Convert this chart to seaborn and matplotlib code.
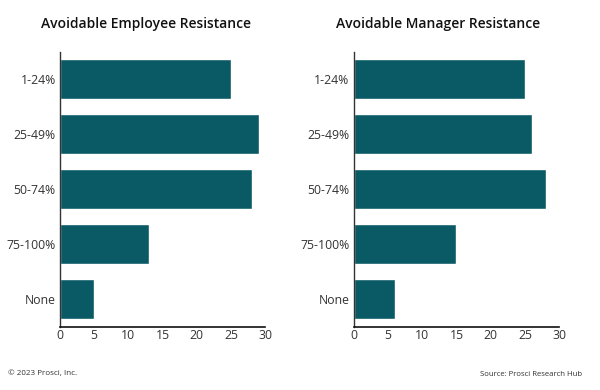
import matplotlib
matplotlib.use("Agg")
import matplotlib.pyplot as plt
import seaborn as sns
import pandas as pd

categories = ["1-24%", "25-49%", "50-74%", "75-100%", "None"]
employee_values = [25.0, 29.1, 28.1, 13.0, 5.0]
manager_values = [25.0, 26.0, 28.0, 15.0, 6.0]
titles = ["Avoidable Employee Resistance", "Avoidable Manager Resistance"]
xticks = [0, 5, 10, 15, 20, 25, 30]

sns.set_style("white")
plt.rcParams['font.family'] = ['Open Sans', 'DejaVu Sans']

color = "#0a5a66"
fig = plt.figure(figsize=(6, 3.9), dpi=100)

axes_pos = [[0.100, 0.1623, 0.342, 0.7051], [0.5895, 0.1623, 0.3425, 0.7051]]
title_x = [146 / 600, 438 / 600]

for pos, vals, title, tx in zip(axes_pos, [employee_values, manager_values], titles, title_x):
    ax = fig.add_axes(pos)
    df = pd.DataFrame({"cat": categories, "val": vals})
    sns.barplot(data=df, x="val", y="cat", orient="h", color=color, width=0.72,
                saturation=1, ax=ax)
    ax.set_xlim(0, 30)
    ax.set_ylim(4.5, -0.5)
    ax.set_xticks(xticks)
    ax.set_xticklabels([str(t) for t in xticks])
    ax.set_xlabel("")
    ax.set_ylabel("")
    for s in ["top", "right"]:
        ax.spines[s].set_visible(False)
    ax.spines["left"].set_color("#333333")
    ax.spines["bottom"].set_color("#111111")
    ax.spines["left"].set_linewidth(1.0)
    ax.spines["bottom"].set_linewidth(1.2)
    ax.tick_params(axis="x", direction="in", length=6, width=1, color="#111111",
                   labelsize=8.8, labelcolor="#333333", pad=2)
    ax.tick_params(axis="y", length=0, labelsize=8.8, labelcolor="#333333", pad=3)
    fig.text(tx, 1 - 24 / 390, title, ha="center", va="center", fontsize=10,
             fontweight="semibold", color="#111111")

fig.text(8 / 600, 1 - 374 / 390, "© 2023 Prosci, Inc.", ha="left", va="center",
         fontsize=5.8, color="#333333")
fig.text(582 / 600, 1 - 374 / 390, "Source: Prosci Research Hub", ha="right", va="center",
         fontsize=5.6, color="#333333")

fig.savefig("out.png", dpi=100)
